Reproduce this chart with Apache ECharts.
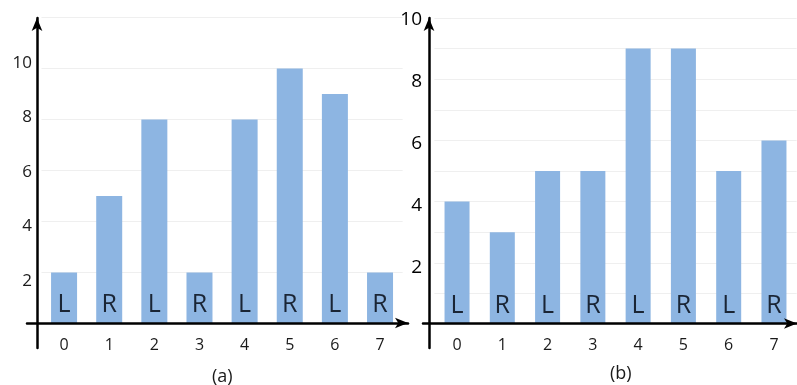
<!DOCTYPE html>
<html><head><meta charset="utf-8">
<script src="https://cdn.jsdelivr.net/npm/echarts@6/dist/echarts.min.js"></script>
<style>html,body{margin:0;padding:0;background:#fff}#c{width:797px;height:385px}</style>
</head><body><div id="c"></div>
<script>
const categories = ['0','1','2','3','4','5','6','7'];
const sideLabels = ['L','R','L','R','L','R','L','R'];
const valuesA = [2,5,8,2,8,10,9,2];
const valuesB = [4,3,5,5,9,9,5,6];
const yTicksA = [2,4,6,8,10];
const yTicksB = [2,4,6,8,10];
const captions = ['(a)','(b)'];

const FONT = 'Open Sans';
const BAR = '#8db5e2';
const hidden = {axisLine:{show:false},axisTick:{show:false},axisLabel:{show:false},splitLine:{show:false}};
function arrowAxis(extra){
  return Object.assign({type:'value',
    axisLine:{show:true,onZero:true,symbol:['none','arrow'],symbolSize:[8,13],lineStyle:{color:'#000',width:2.5}},
    axisTick:{show:false},axisLabel:{show:false},splitLine:{show:false},z:10}, extra);
}
const chart = echarts.init(document.getElementById('c'));
chart.setOption({
  animation:false,
  backgroundColor:'#fff',
  textStyle:{fontFamily:FONT},
  title:[
    {text:captions[0],left:207,top:363,textStyle:{fontFamily:FONT,fontSize:18,fontWeight:'normal',color:'#1a1a1a'}},
    {text:captions[1],left:605,top:360,textStyle:{fontFamily:FONT,fontSize:18,fontWeight:'normal',color:'#1a1a1a'}}
  ],
  grid:[
    {left:27,right:389,top:18,bottom:37},
    {left:41.5,right:394.4,top:17.5,bottom:61.5},
    {left:37,right:400,top:8.5,bottom:49.5},
    {left:423,right:0,top:18,bottom:37},
    {left:434.4,right:0.4,top:18,bottom:61},
    {left:429,right:0,top:20,bottom:55}
  ],
  xAxis:[
    arrowAxis({gridIndex:0,min:-10,max:371}),
    {type:'category',gridIndex:1,data:categories,axisLine:{show:false},axisTick:{show:false},
      axisLabel:{margin:14,fontSize:16,color:'#1a1a1a',fontFamily:FONT},splitLine:{show:false}},
    Object.assign({type:'value',gridIndex:2,min:0,max:1,show:false},hidden),
    arrowAxis({gridIndex:3,min:-6,max:368}),
    {type:'category',gridIndex:4,data:categories,axisLine:{show:false},axisTick:{show:false},
      axisLabel:{margin:13,fontSize:16,color:'#1a1a1a',fontFamily:FONT},splitLine:{show:false}},
    Object.assign({type:'value',gridIndex:5,min:0,max:1,show:false},hidden)
  ],
  yAxis:[
    arrowAxis({gridIndex:0,min:-25,max:305.5}),
    {type:'value',gridIndex:1,min:0,max:12,interval:2,axisLine:{show:false},axisTick:{show:false},
      axisLabel:{show:false},splitLine:{show:true,lineStyle:{color:'#efefef',width:1}}},
    {type:'value',gridIndex:2,min:0,max:12,interval:2,axisLine:{show:false},axisTick:{show:false},splitLine:{show:false},
      axisLabel:{margin:5,fontSize:17,color:'#1a1a1a',fontFamily:FONT,formatter:v=>yTicksA.includes(v)?String(v):''}},
    arrowAxis({gridIndex:3,min:-24.5,max:305.5}),
    {type:'value',gridIndex:4,min:0,max:10,interval:1,axisLine:{show:false},axisTick:{show:false},
      axisLabel:{show:false},splitLine:{show:true,lineStyle:{color:'#efefef',width:1}}},
    {type:'value',gridIndex:5,min:0,max:10,interval:2,axisLine:{show:false},axisTick:{show:false},splitLine:{show:false},
      axisLabel:{margin:7,fontSize:19,color:'#000',fontFamily:FONT,formatter:v=>yTicksB.includes(v)?String(v):''}}
  ],
  series:[
    {type:'bar',xAxisIndex:1,yAxisIndex:1,data:valuesA,barWidth:26,itemStyle:{color:BAR},
      label:{show:true,position:'insideBottom',distance:6,fontSize:25,color:'#1a2535',fontFamily:FONT,
        formatter:p=>sideLabels[p.dataIndex]}},
    {type:'bar',xAxisIndex:4,yAxisIndex:4,data:valuesB,barWidth:25,itemStyle:{color:BAR},
      label:{show:true,position:'insideBottom',distance:6,fontSize:25,color:'#1a2535',fontFamily:FONT,
        formatter:p=>sideLabels[p.dataIndex]}}
  ]
});
</script></body></html>
